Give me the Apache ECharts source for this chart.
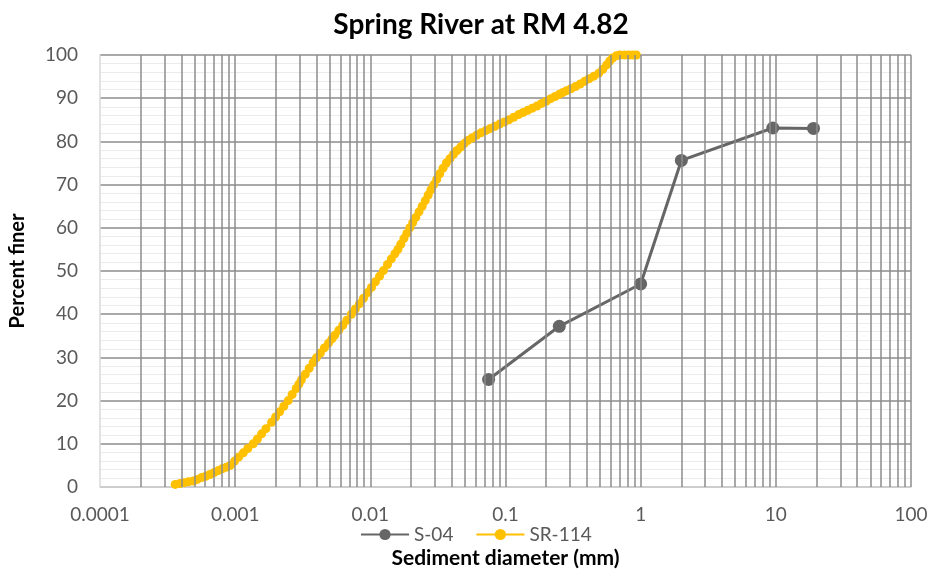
<!DOCTYPE html>
<html><head><meta charset="utf-8">
<script src="https://cdn.jsdelivr.net/npm/echarts@6/dist/echarts.min.js"></script>
<style>html,body{margin:0;padding:0;background:#fff}#c{width:933px;height:571px}</style>
</head><body><div id="c"></div>
<script>
var titleText = 'Spring River at RM 4.82';
var xName = 'Sediment diameter (mm)';
var yName = 'Percent finer';
var xTickLabels = ['0.0001','0.001','0.01','0.1','1','10','100'];
var seriesNames = ['S-04','SR-114'];

var s04Diam = [0.075, 0.25, 1.0, 2.0, 9.5, 19];
var s04Pct  = [24.9, 37.2, 47.0, 75.6, 83.1, 83.0];

var sr114Diam = [0.00036,0.00039,0.00042,0.00045,0.00049,0.000525,0.000565,0.000605,0.00065,0.0007,0.00075,0.0008,0.00086,0.00092,0.00099,0.00106,0.00115,0.00124,0.00136,0.00146,0.00157,0.00169,0.00186,0.00199,0.00213,0.00229,0.00247,0.00264,0.00283,0.00296,0.00309,0.0033,0.00353,0.00377,0.00399,0.00427,0.00457,0.0049,0.0052,0.00545,0.00585,0.00625,0.0067,0.00724,0.00775,0.0083,0.0089,0.00957,0.0102,0.0109,0.0117,0.0125,0.0134,0.0143,0.0152,0.016,0.0168,0.0177,0.0186,0.0196,0.0206,0.0217,0.0229,0.0242,0.0255,0.0268,0.0281,0.0295,0.031,0.0326,0.0345,0.0365,0.0388,0.0412,0.0438,0.0466,0.0495,0.0525,0.0565,0.061,0.066,0.0715,0.0775,0.0835,0.0904,0.098,0.106,0.115,0.125,0.135,0.146,0.158,0.171,0.185,0.2,0.216,0.233,0.25,0.265,0.282,0.305,0.33,0.357,0.385,0.415,0.45,0.49,0.525,0.56,0.59,0.62,0.66,0.7,0.76,0.82,0.88,0.93];
var sr114Pct = [0.6,0.8,1.0,1.2,1.4,1.75,2.2,2.5,2.9,3.35,3.8,4.2,4.6,5.0,6.0,6.9,7.9,8.9,10.0,11.1,12.3,13.5,15.0,16.2,17.4,18.7,20.0,21.4,22.8,23.8,24.8,26.1,27.5,28.8,29.9,31.0,32.2,33.3,34.3,35.1,36.3,37.4,38.6,40.0,41.2,42.4,43.7,45.0,46.2,47.5,48.8,50.1,51.5,52.8,54.0,55.0,56.2,57.5,58.7,60.0,61.2,62.4,63.7,65.0,66.3,67.6,68.8,70.0,71.2,72.5,73.8,75.0,76.0,77.0,77.9,78.7,79.5,80.2,80.8,81.4,82.0,82.5,83.0,83.5,84.0,84.5,85.0,85.6,86.2,86.7,87.2,87.7,88.2,88.8,89.3,89.9,90.4,90.9,91.3,91.7,92.2,92.7,93.3,93.9,94.5,95.1,95.8,96.7,97.7,98.6,99.3,99.8,100,100,100,100,100];

function zip(a,b){return a.map(function(v,i){return [v,b[i]];});}

// vertical log grid lines at 1..9 x each decade (built from the axis range)
var vLines = [];
for (var e = -4; e <= 1; e++) {
  for (var m = 1; m <= 9; m++) {
    if (e === -4 && m === 1) continue;
    var v = Number((m * Math.pow(10, e)).toPrecision(3));
    vLines.push([{coord: [v, 0]}, {coord: [v, 100]}]);
  }
}
vLines.push([{coord: [100, 0]}, {coord: [100, 100]}]);

var FONT = 'Lato';
var chart = echarts.init(document.getElementById('c'), null, {renderer:'canvas'});
chart.setOption({
  animation: false,
  title: {text: titleText, left: 476, top: 6, textAlign: 'center',
    textStyle: {fontFamily: FONT, fontSize: 28, fontWeight: 'bold', color: '#000'}},
  grid: {left: 100, right: 22, top: 55, bottom: 84, containLabel: false, outerBoundsMode: 'none'},
  legend: {
    data: seriesNames, left: 355, top: 520, itemWidth: 48, itemHeight: 14, itemGap: 22,
    textStyle: {fontFamily: FONT, fontSize: 19, color: '#595959'}
  },
  xAxis: {
    type: 'log', logBase: 10, min: 0.0001, max: 100,
    name: xName, nameLocation: 'middle', nameGap: 61,
    nameTextStyle: {fontFamily: FONT, fontSize: 21, fontWeight: 'bold', color: '#000'},
    axisLine: {show: true, lineStyle: {color: '#d9d9d9', width: 1.5}},
    axisTick: {show: false},
    splitLine: {show: false},
    axisLabel: {fontFamily: FONT, fontSize: 19, color: '#595959', margin: 18,
      formatter: function(v){ var i = Math.round(Math.log10(v)) + 4; return xTickLabels[i] !== undefined ? xTickLabels[i] : ''; }}
  },
  yAxis: {
    type: 'value', min: 0, max: 100, interval: 10,
    name: yName, nameLocation: 'middle', nameGap: 72,
    nameTextStyle: {fontFamily: FONT, fontSize: 20, fontWeight: 'bold', color: '#000'},
    axisLine: {show: true, lineStyle: {color: '#d9d9d9', width: 1.5}},
    axisTick: {show: false},
    axisLabel: {fontFamily: FONT, fontSize: 19, color: '#595959', margin: 22},
    splitLine: {show: true, lineStyle: {color: '#8c8c8c', width: 1.5}},
    minorTick: {show: false, splitNumber: 5},
    minorSplitLine: {show: true, lineStyle: {color: '#ebebeb', width: 1}}
  },
  series: [
    {
      name: '__grid', type: 'line', data: [[0.001, 50]], symbol: 'none', lineStyle: {opacity: 0}, z: 1, silent: true,
      markLine: {silent: true, symbol: 'none', label: {show: false}, animation: false,
        lineStyle: {color: '#8c8c8c', width: 1.5, type: 'solid'}, data: vLines}
    },
    {
      name: seriesNames[0], type: 'line', z: 3, data: zip(s04Diam, s04Pct),
      symbol: 'circle', symbolSize: 13, color: '#666666',
      lineStyle: {color: '#666666', width: 3}, itemStyle: {color: '#666666'}
    },
    {
      name: seriesNames[1], type: 'line', z: 4, data: zip(sr114Diam, sr114Pct),
      symbol: 'circle', symbolSize: 9, color: '#FFC000',
      lineStyle: {color: '#FFC000', width: 4}, itemStyle: {color: '#FFC000'}
    }
  ]
});
</script></body></html>
